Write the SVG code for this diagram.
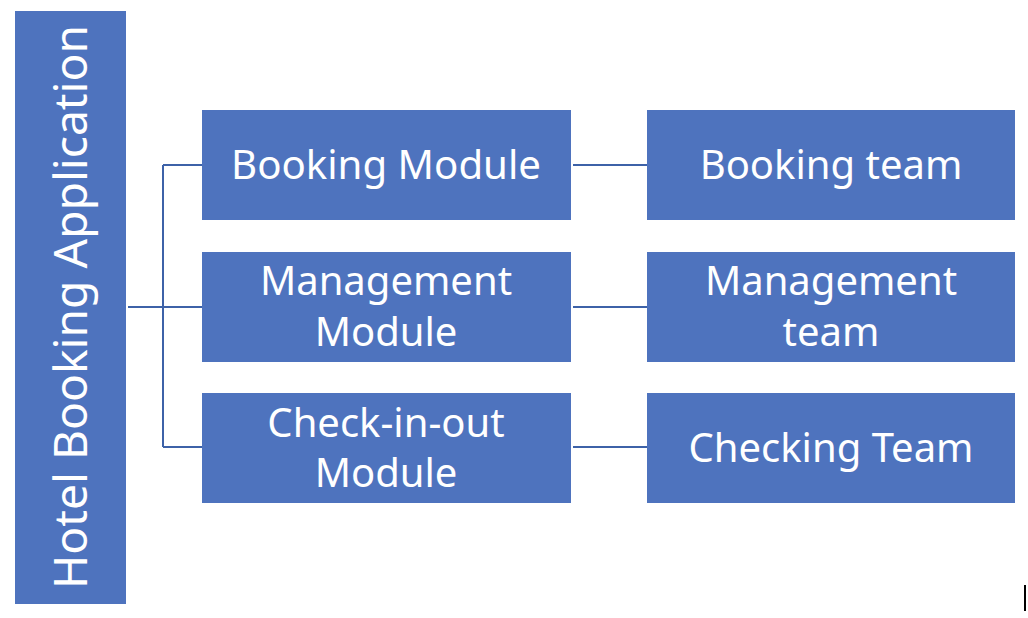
<svg xmlns="http://www.w3.org/2000/svg" width="1028" height="618" viewBox="0 0 1028 618">
<style>
.box{fill:#4E73BE;}
.lbl{font-family:"Noto Sans","Open Sans","DejaVu Sans",sans-serif;font-size:40px;fill:#FFFFFF;text-anchor:middle;}
.conn{stroke:#3D62A8;stroke-width:2;fill:none;}
</style>
<rect width="1028" height="618" fill="#FFFFFF"/>
<g id="connectors">
<path class="conn" d="M128 307 H202"/>
<path class="conn" d="M163 165 V447"/>
<path class="conn" d="M163 165 H202"/>
<path class="conn" d="M163 447 H202"/>
<path class="conn" d="M573 165 H647"/>
<path class="conn" d="M573 307 H647"/>
<path class="conn" d="M573 447 H647"/>
</g>
<g id="hotel-booking-application">
<rect class="box" x="15" y="11" width="111" height="593"/>
<text class="lbl" style="font-size:46px" transform="translate(87,307) rotate(-90)" x="0" y="0" textLength="564" lengthAdjust="spacingAndGlyphs">Hotel Booking Application</text>
</g>
<g id="booking-module">
<rect class="box" x="202" y="110" width="369" height="110"/>
<text class="lbl" x="386" y="179" textLength="310" lengthAdjust="spacingAndGlyphs">Booking Module</text>
</g>
<g id="management-module">
<rect class="box" x="202" y="252" width="369" height="110"/>
<text class="lbl" x="386" y="295">Management</text>
<text class="lbl" x="386" y="346">Module</text>
</g>
<g id="checkinout-module">
<rect class="box" x="202" y="393" width="369" height="110"/>
<text class="lbl" x="386" y="437">Check-in-out</text>
<text class="lbl" x="386" y="487">Module</text>
</g>
<g id="booking-team">
<rect class="box" x="647" y="110" width="368" height="110"/>
<text class="lbl" x="831" y="179">Booking team</text>
</g>
<g id="management-team">
<rect class="box" x="647" y="252" width="368" height="110"/>
<text class="lbl" x="831" y="295">Management</text>
<text class="lbl" x="831" y="346">team</text>
</g>
<g id="checking-team">
<rect class="box" x="647" y="393" width="368" height="110"/>
<text class="lbl" x="831" y="462">Checking Team</text>
</g>
<rect x="1024" y="585" width="2" height="26" fill="#000000"/>
</svg>
